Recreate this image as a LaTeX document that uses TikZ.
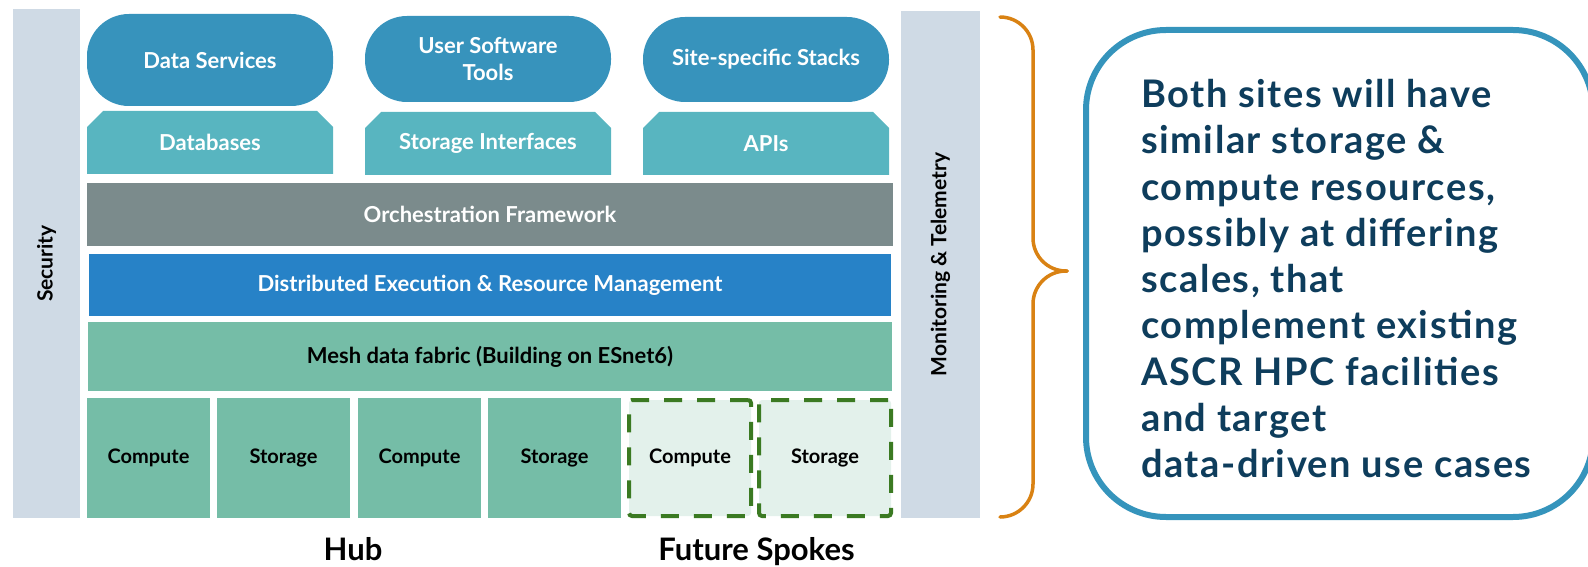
\documentclass[tikz,border=0pt]{standalone}
\usepackage{fontspec}
\setmainfont{Lato}
\newfontfamily\notefont[LetterSpace=4]{Lato}
\usetikzlibrary{shapes.misc}
\definecolor{pillblue}{HTML}{3793BC}
\definecolor{tealbox}{HTML}{58B5C0}
\definecolor{orchgrey}{HTML}{7B8B8C}
\definecolor{execblue}{HTML}{2782C7}
\definecolor{meshgreen}{HTML}{75BDA7}
\definecolor{spokefill}{HTML}{E3F1EB}
\definecolor{spokeline}{HTML}{3B7A22}
\definecolor{sidegrey}{HTML}{CFDAE5}
\definecolor{braceorange}{HTML}{D98213}
\definecolor{noteblue}{HTML}{3594BC}
\definecolor{notetext}{HTML}{0E3D5C}
\begin{document}
\begin{tikzpicture}[x=1pt,y=-1pt,
  lbl/.style={font=\fontsize{22}{26.5}\selectfont\bfseries,inner sep=0pt,align=center},
  pill/.style={lbl,fill=pillblue,text=white,rounded corners=42pt,minimum width=246pt},
  chamf/.style={lbl,chamfered rectangle,chamfered rectangle corners={north west,north east},
    chamfered rectangle xsep=8pt,chamfered rectangle ysep=8pt,fill=tealbox,text=white,
    minimum width=246pt,minimum height=63pt},
  layer/.style={lbl,text=white,minimum height=62pt},
  unit/.style={font=\fontsize{20}{24}\selectfont\bfseries,inner sep=0pt,minimum height=120pt},
  spoke/.style={unit,fill=spokefill,draw=spokeline,line width=4pt,dash pattern=on 18pt off 15pt,
    rounded corners=3pt,minimum height=116pt},
  side/.style={font=\fontsize{21}{24}\selectfont\bfseries,fill=sidegrey,rotate=90,inner sep=0pt},
  brace/.style={draw=braceorange,line width=3.5pt,rounded corners=33pt,line cap=round},
  site/.style={font=\fontsize{31}{36}\selectfont\bfseries,inner sep=0pt,anchor=base}]
  \clip (0,0) rectangle (1588,567);
  % side bars
  \node[side,minimum width=509pt,minimum height=67pt] (security) at (46.5,263.5) {Security};
  \node[side,minimum width=507pt,minimum height=79pt] (monitor) at (940.5,264.5) {Monitoring \& Telemetry};
  % services
  \node[pill,minimum height=92pt] (datasvc) at (210,60) {Data Services};
  \node[pill,minimum height=86pt] (usertools) at (488,59) {User Software\\Tools};
  \node[pill,minimum height=85pt] (stacks) at (766,59.5) {Site-specific Stacks};
  % interfaces
  \node[chamf] (databases) at (210,142.5) {Databases};
  \node[chamf] (storeif) at (488,143.5) {Storage Interfaces};
  \node[chamf] (apis) at (766,143.5) {APIs};
  % layers
  \node[layer,fill=orchgrey,minimum width=806pt,minimum height=63pt] (orch) at (490,214.5) {Orchestration Framework};
  \node[layer,fill=execblue,minimum width=802pt] (exec) at (490,285) {Distributed Execution \& Resource Management};
  \node[layer,fill=meshgreen,text=black,minimum width=804pt,minimum height=69pt] (mesh) at (490,356.5) {Mesh data fabric (Building on ESnet6)};
  % hub
  \node[unit,fill=meshgreen,minimum width=123pt] (hubcomp1) at (148.5,458) {Compute};
  \node[unit,fill=meshgreen,minimum width=133pt] (hubstor1) at (283.5,458) {Storage};
  \node[unit,fill=meshgreen,minimum width=123pt] (hubcomp2) at (419.5,458) {Compute};
  \node[unit,fill=meshgreen,minimum width=133pt] (hubstor2) at (554.5,458) {Storage};
  % future spokes
  \node[spoke,minimum width=122pt] (spokecomp) at (690,458) {Compute};
  \node[spoke,minimum width=132pt] (spokestor) at (825,458) {Storage};
  \node[site] (hub) at (353,560) {Hub};
  \node[site] (spokes) at (756.5,560) {Future Spokes};
  % brace and note
  \draw[brace] (1000,17) -- (1033,17) -- (1033,271) -- (1067,271);
  \draw[brace] (1067,271) -- (1033,271) -- (1033,517) -- (1000,517);
  \node[draw=noteblue,line width=6pt,fill=white,rounded corners=80pt,minimum width=507pt,minimum height=487pt] (note) at (1339.5,273.5) {};
  \node[anchor=north west,inner sep=0pt,align=left,text=notetext,font=\notefont\fontsize{38}{46.3}\selectfont\bfseries] (notetxt) at (1141,79)
    {Both sites will have\\similar storage \&\\compute resources,\\possibly at differing\\scales, that\\complement existing\\ASCR HPC facilities\\and target\\data-driven use cases};
\end{tikzpicture}
\end{document}
